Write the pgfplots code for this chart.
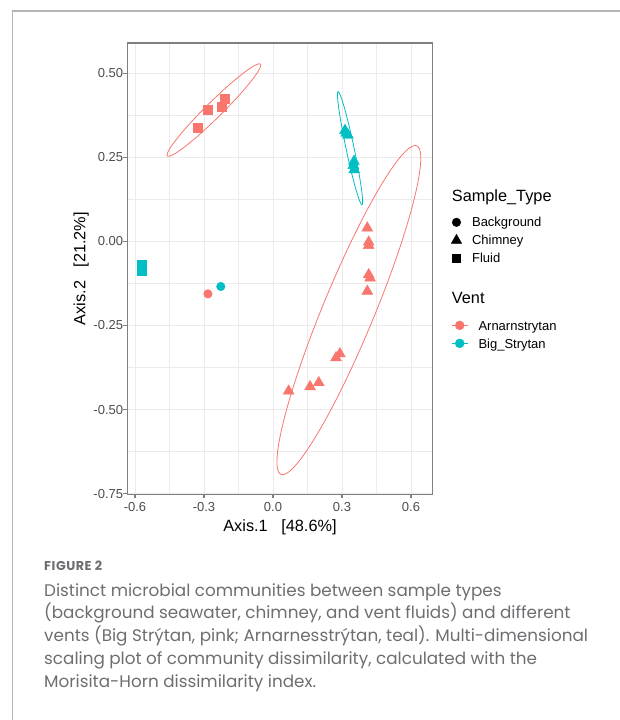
\documentclass[border=0pt]{standalone}
\usepackage{pgfplots}
\usepackage{pgfplotstable}
\pgfplotsset{compat=1.18}
\usepackage{fontspec}
\setmainfont{Liberation Sans}
\newfontfamily\capfont{Poppins}
\definecolor{pinkc}{HTML}{F8766D}
\definecolor{tealc}{HTML}{00BFC4}
\definecolor{gridc}{HTML}{EBEBEB}
\definecolor{borderc}{HTML}{7F7F7F}
\definecolor{tickc}{HTML}{4D4D4D}
\definecolor{capc}{HTML}{6D6E71}
\definecolor{framec}{HTML}{B4B4B4}

% Fluid, Arnarnstrytan (pink)
\pgfplotstableread{
x y
-0.329 0.338
-0.283 0.391
-0.223 0.401
-0.210 0.425
}\pinkfluid
% Fluid, Big_Strytan (teal)
\pgfplotstableread{
x y
-0.572 -0.068
-0.570 -0.077
-0.571 -0.086
}\tealfluid
% Background
\pgfplotstableread{
x y
-0.283 -0.156
}\pinkback
\pgfplotstableread{
x y
-0.227 -0.134
}\tealback
% Chimney, Big_Strytan (teal)
\pgfplotstableread{
x y
0.313 0.330
0.318 0.322
0.326 0.316
0.352 0.238
0.349 0.226
0.353 0.213
}\tealchim
% Chimney, Arnarnstrytan (pink)
\pgfplotstableread{
x y
0.410 0.040
0.416 -0.002
0.416 -0.012
0.416 -0.099
0.422 -0.109
0.410 -0.148
0.291 -0.334
0.274 -0.346
0.199 -0.420
0.161 -0.432
0.068 -0.445
}\pinkchim

\pgfplotsset{
  mylegend/.style={
    legend style={draw=none, fill=none, inner sep=0pt, outer sep=0pt,
      row sep=0pt, column sep=10.4pt, anchor=north west,
      font=\fontsize{13}{13}\selectfont,
      nodes={inner sep=0pt, text height=11pt, text depth=7pt, anchor=base west}},
    legend cell align=left,
    legend image code/.code={\draw[mark repeat=2, mark phase=2, ##1] plot coordinates {(0pt,4.65pt) (8pt,4.65pt) (16pt,4.65pt)};},
  }
}

\begin{document}
\begin{tikzpicture}
\useasboundingbox (0pt,0pt) rectangle (620pt,720pt);
\draw[framec, line width=1.2pt] (12.7pt,-2pt) -- (12.7pt,709pt) -- (622pt,709pt);

\begin{axis}[
  at={(127.3pt,225.7pt)}, anchor=south west,
  width=305.4pt, height=451.3pt, scale only axis,
  xmin=-0.6335, xmax=0.6943, ymin=-0.752, ymax=0.590,
  xtick={-0.6,-0.3,0,0.3,0.6}, xticklabels={-0.6,-0.3,0.0,0.3,0.6},
  ytick={-0.75,-0.5,-0.25,0,0.25,0.5},
  yticklabels={-0.75,-0.50,-0.25,0.00,0.25,0.50},
  minor xtick={-0.45,-0.15,0.15,0.45},
  minor ytick={-0.625,-0.375,-0.125,0.125,0.375},
  grid=both,
  tick align=outside, tick pos=left,
  major tick length=4pt, minor tick length=0pt,
  major tick style={draw=borderc, line width=1.1pt},
  major grid style={draw=gridc, line width=1.0pt},
  minor grid style={draw=gridc, line width=0.6pt},
  axis line style={draw=borderc, line width=1.1pt},
  ticklabel style={font=\fontsize{13}{13}\selectfont, text=tickc},
  xticklabel style={anchor=north, inner sep=0pt, yshift=-3.5pt},
  yticklabel style={anchor=east, inner sep=0pt},
  xlabel={Axis.1\ \ \ [48.6\%]}, ylabel={Axis.2\ \ \ [21.2\%]},
  label style={font=\fontsize{16.3}{16.3}\selectfont},
  xlabel style={at={(axis description cs:0.5,-0.0835)}, anchor=base},
  ylabel style={at={(axis description cs:-0.1375,0.5)}, anchor=base},
  mylegend,
  legend style={at={(axis description cs:1.0609,0.6167)}},
]
\addlegendimage{only marks, mark=*, black, mark size=4.3pt}
\addlegendentry{Background}
\addlegendimage{only marks, mark=triangle*, black, mark size=6.0pt}
\addlegendentry{Chimney}
\addlegendimage{only marks, mark=square*, black, mark size=4.0pt}
\addlegendentry{Fluid}

\addplot[forget plot, only marks, mark=square*, mark size=4.5pt, pinkc] table {\pinkfluid};
\addplot[forget plot, only marks, mark=square*, mark size=4.5pt, tealc] table {\tealfluid};
\addplot[forget plot, only marks, mark=*, mark size=4.3pt, pinkc] table {\pinkback};
\addplot[forget plot, only marks, mark=*, mark size=4.3pt, tealc] table {\tealback};
\addplot[forget plot, only marks, mark=triangle*, mark size=6.3pt, tealc] table {\tealchim};
\addplot[forget plot, only marks, mark=triangle*, mark size=6.3pt, pinkc] table {\pinkchim};

% confidence ellipses (centre, semi-axes)
\addplot[forget plot, pinkc, line width=0.8pt, domain=0:360, samples=145, no markers]
  ({-0.257+0.202*cos(x)-0.02447*sin(x)}, {0.3905+0.1365*cos(x)+0.01688*sin(x)});
\addplot[forget plot, tealc, line width=0.8pt, domain=0:360, samples=145, no markers]
  ({0.335-0.052*cos(x)+0.0170*sin(x)}, {0.277+0.168*cos(x)+0.00246*sin(x)});
\addplot[forget plot, pinkc, line width=0.8pt, domain=0:360, samples=181, no markers]
  ({0.3298+0.295*cos(x)+0.10366*sin(x)}, {-0.2043+0.4884*cos(x)-0.02928*sin(x)});
\end{axis}

\begin{axis}[
  at={(127.3pt,225.7pt)}, anchor=south west,
  width=305.4pt, height=451.3pt, scale only axis,
  hide axis, xmin=0, xmax=1, ymin=0, ymax=1,
  mylegend,
  legend style={at={(axis description cs:1.0609,0.3884)}},
]
\addlegendimage{pinkc, mark=*, mark size=4.3pt, line width=0.8pt, mark options={solid}}
\addlegendentry{Arnarnstrytan}
\addlegendimage{tealc, mark=*, mark size=4.3pt, line width=0.8pt, mark options={solid}}
\addlegendentry{Big\_Strytan}
\end{axis}

\node[anchor=base west, inner sep=0pt, font=\fontsize{16.3}{16.3}\selectfont] at (451.7pt,518pt) {Sample\_Type};
\node[anchor=base west, inner sep=0pt, font=\fontsize{16.3}{16.3}\selectfont] at (451.7pt,416pt) {Vent};

\begin{scope}[every node/.style={anchor=base west, inner sep=0pt, text=capc}]
\node[font={\capfont\bfseries\addfontfeatures{LetterSpace=4}\fontsize{12.8}{12.8}\selectfont}] at (44pt,149.3pt) {FIGURE 2};
\node[font=\capfont\fontsize{16.8}{16.8}\selectfont] at (44pt,123.8pt) {Distinct microbial communities between sample types};
\node[font=\capfont\fontsize{16.8}{16.8}\selectfont] at (44pt,101.0pt) {(background seawater, chimney, and vent fluids) and different};
\node[font=\capfont\fontsize{16.8}{16.8}\selectfont] at (44pt,78.2pt) {vents (Big Strýtan, pink; Arnarnesstrýtan, teal). Multi-dimensional};
\node[font=\capfont\fontsize{16.8}{16.8}\selectfont] at (44pt,55.4pt) {scaling plot of community dissimilarity, calculated with the};
\node[font=\capfont\fontsize{16.8}{16.8}\selectfont] at (44pt,32.6pt) {Morisita-Horn dissimilarity index.};
\end{scope}
\end{tikzpicture}
\end{document}
